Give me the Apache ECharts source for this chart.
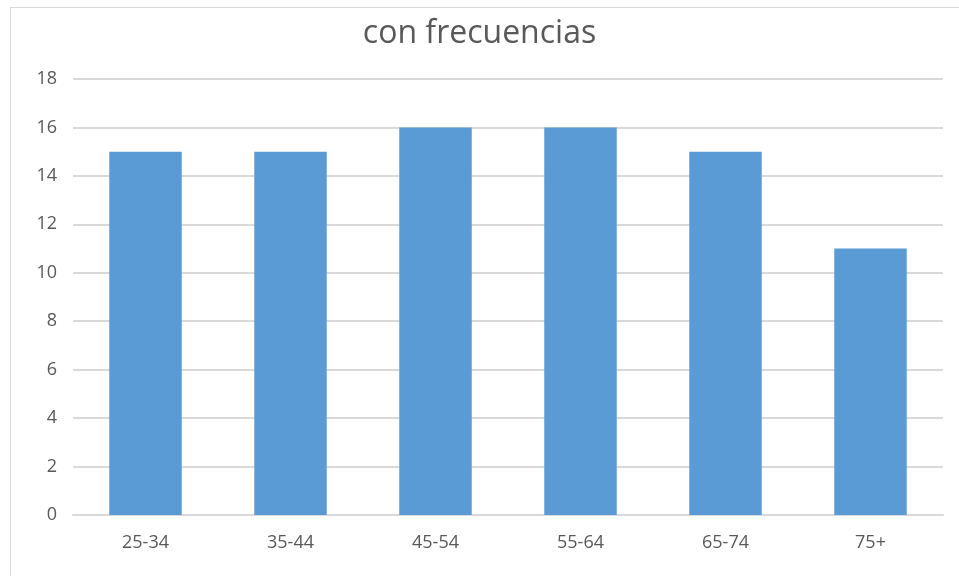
<!DOCTYPE html>
<html><head><meta charset="utf-8">
<script src="https://cdn.jsdelivr.net/npm/echarts@6/dist/echarts.min.js"></script>
<style>
html,body{margin:0;padding:0;background:#fff;width:959px;height:576px;overflow:hidden;}
#frame{position:absolute;left:10px;top:7px;width:1000px;height:600px;border:1px solid #d9d9d9;box-sizing:border-box;}
#chart{position:absolute;left:0;top:0;width:959px;height:576px;}
</style></head>
<body>
<div id="frame"></div>
<div id="chart"></div>
<script>
var categories = ['25-34','35-44','45-54','55-64','65-74','75+'];
var values = [15,15,16,16,15,11];
var titleText = 'con frecuencias';

var chart = echarts.init(document.getElementById('chart'));
chart.setOption({
  animation:false,
  title:{text:titleText,left:'center',top:13,
    textStyle:{fontFamily:'Open Sans',fontSize:32,fontWeight:'normal',color:'#595959'}},
  grid:{left:73,right:16,top:79,bottom:61},
  xAxis:{type:'category',data:categories,
    axisLine:{lineStyle:{color:'#d9d9d9',width:2}},
    axisTick:{show:false},
    axisLabel:{fontFamily:'Open Sans',fontSize:18,color:'#595959',margin:19}},
  yAxis:{type:'value',min:0,max:18,interval:2,
    axisLine:{show:false},axisTick:{show:false},
    splitLine:{lineStyle:{color:'#d9d9d9',width:2}},
    axisLabel:{fontFamily:'Open Sans',fontSize:18,color:'#595959',margin:16}},
  series:[{type:'bar',data:values,barWidth:'50%',
    itemStyle:{color:'#5b9bd5'}}]
});
</script>
</body></html>
